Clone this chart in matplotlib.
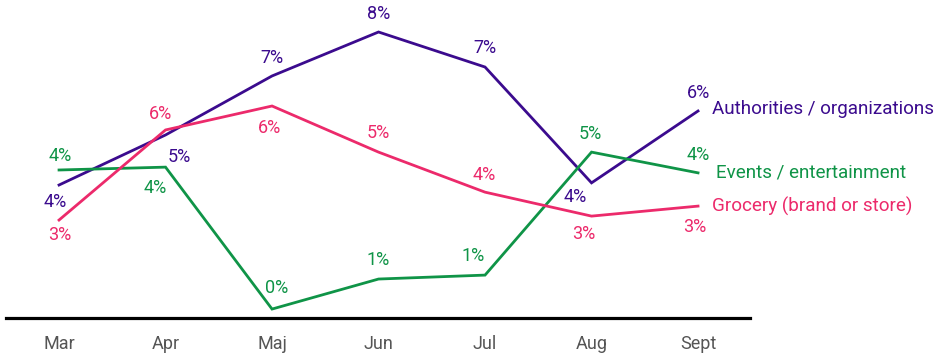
import matplotlib
matplotlib.use("Agg")
from matplotlib import pyplot as plt

plt.rcParams['font.family'] = ['Roboto', 'DejaVu Sans']

# datos
meses = ["Mar", "Apr", "Maj", "Jun", "Jul", "Aug", "Sept"]
autoridades = [3.72, 5.12, 6.77, 8.00, 7.02, 3.78, 5.79]
autoridades_txt = ["4%", "5%", "7%", "8%", "7%", "4%", "6%"]
eventos = [4.14, 4.22, 0.25, 1.09, 1.20, 4.64, 4.06]
eventos_txt = ["4%", "4%", "0%", "1%", "1%", "5%", "4%"]
almacen = [2.74, 5.26, 5.93, 4.64, 3.52, 2.85, 3.13]
almacen_txt = ["3%", "6%", "6%", "5%", "4%", "3%", "3%"]

morado = "#3B0B8E"
verde = "#0F9447"
rosa = "#EC2A6B"

# desplazamiento de cada etiqueta en pixeles (dx, dy), dy positivo = arriba
offs_aut = [(-4, -15), (14, -20), (0, 20), (0, 20), (0, 21), (-16, -12), (0, 20)]
offs_eve = [(1, 16), (-10, -19), (5, 23), (0, 21), (-12, 21), (-1, 20), (0, 20)]
offs_alm = [(1, -13), (-5, 18), (-3, -20), (0, 21), (-1, 19), (-8, -16), (-3, -19)]
baja = 2  # todas las etiquetas un poco mas abajo

fig = plt.figure(figsize=(9.4, 3.59), dpi=100)
ax = fig.add_axes([6 / 940, 41 / 359, 744 / 940, 318 / 359])

x = list(range(len(meses)))
ax.set_xlim(-0.498, 6.488)
ax.set_ylim(0, 318 / 35.75)

series = [
    (autoridades, autoridades_txt, offs_aut, morado, "Authorities / organizations", (14, 4)),
    (eventos, eventos_txt, offs_eve, verde, "Events / entertainment", (18, 2)),
    (almacen, almacen_txt, offs_alm, rosa, "Grocery (brand or store)", (14, 2)),
]

for valores, textos, offs, color, nombre, off_nombre in series:
    ax.plot(x, valores, color=color, linewidth=2.0, solid_joinstyle='miter', clip_on=False)
    for xi, v, t, (dx, dy) in zip(x, valores, textos, offs):
        ax.annotate(t, (xi, v), xytext=(dx * 0.72, (dy - baja) * 0.72), textcoords='offset points',
                    ha='center', va='center', color=color, fontsize=13, annotation_clip=False)
    ax.annotate(nombre, (x[-1], valores[-1]),
                xytext=(off_nombre[0] * 0.72, (off_nombre[1] - baja) * 0.72),
                textcoords='offset points', ha='left', va='center', color=color,
                fontsize=13.6, annotation_clip=False)

for lado in ["top", "right", "left"]:
    ax.spines[lado].set_visible(False)
ax.spines["bottom"].set_linewidth(2.3)
ax.spines["bottom"].set_color("black")
ax.set_yticks([])
ax.set_xticks(x)
ax.set_xticklabels(meses, fontsize=13, color="#555555")
ax.tick_params(axis='x', length=0, pad=12)

plt.savefig("out.png", dpi=100)
